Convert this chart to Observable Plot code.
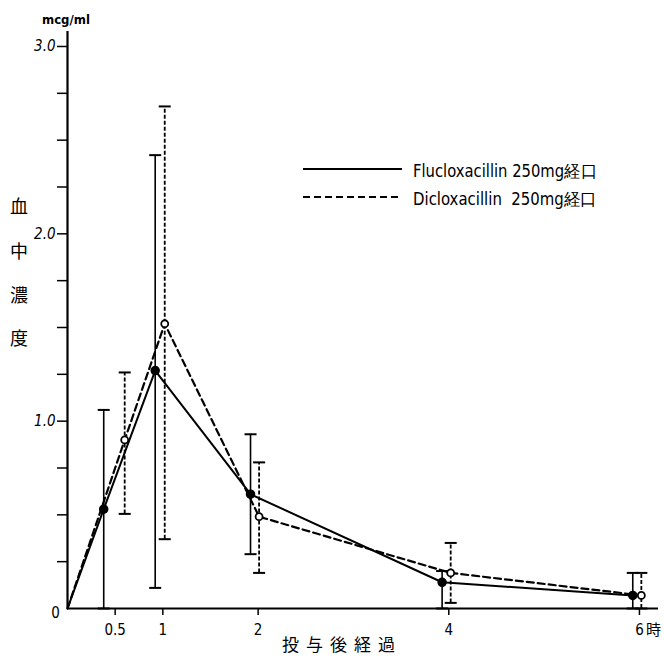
<!DOCTYPE html>
<html><head><meta charset="utf-8">
<script src="https://cdn.jsdelivr.net/npm/d3@7"></script>
<script src="https://cdn.jsdelivr.net/npm/@observablehq/plot@0.6"></script>
<style>
body{margin:0;background:#fff;}
#chart{position:relative;width:664px;height:659px;}
</style></head>
<body><div id="chart"></div>
<script>
// ---- data ----
const fluTimes = [0, 0.38, 0.92, 1.92, 3.93, 5.93];
const fluMean  = [0, 0.53, 1.27, 0.61, 0.14, 0.07];
const fluLow   = [null, 0, 0.11, 0.29, 0, 0];
const fluHigh  = [null, 1.06, 2.42, 0.93, 0.20, 0.19];
const dicTimes = [0, 0.60, 1.02, 2.01, 4.02, 6.02];
const dicMean  = [0, 0.90, 1.52, 0.49, 0.19, 0.07];
const dicLow   = [null, 0.505, 0.37, 0.19, 0.03, 0];
const dicHigh  = [null, 1.26, 2.68, 0.78, 0.35, 0.19];
const xTicks = [0.5, 1, 2, 4, 6];
const xTickLabels = ["0.5", "1", "2", "4", "6"];
const yTicks = [0.25, 0.5, 0.75, 1, 1.25, 1.5, 1.75, 2, 2.25, 2.5, 2.75, 3];
const seriesNames = ["Flucloxacillin 250mg経口", "Dicloxacillin  250mg経口"];
const yUnit = "mcg/ml";
const yTitle = ["血", "中", "濃", "度"];
const xTitle = "投与後経過";
const hourUnit = "時";

const rows = (t, m, lo, hi) => t.map((x, i) => ({x, y: m[i], lo: lo[i], hi: hi[i]}));
const flu = rows(fluTimes, fluMean, fluLow, fluHigh);
const dic = rows(dicTimes, dicMean, dicLow, dicHigh);
const fluErr = flu.filter(d => d.lo != null);
const dicErr = dic.filter(d => d.lo != null);

const FONT = '"DejaVu Sans Condensed","Liberation Sans Narrow","DejaVu Sans",sans-serif';
const CJK = '"Noto Sans CJK JP",sans-serif';

const cap = {draw(ctx, size){ const w = Math.sqrt(size/Math.PI); ctx.moveTo(-w,0); ctx.lineTo(w,0); }};

const plot = Plot.plot({
  width: 664, height: 659,
  marginLeft: 67, marginRight: 6, marginTop: 31, marginBottom: 51,
  style: {fontFamily: FONT, background: "#fff", color: "#000"},
  x: {domain: [0, 6.2], axis: null},
  y: {domain: [0, 3.08], axis: null},
  marks: [
    Plot.ruleX([0], {strokeWidth: 2.2}),
    Plot.ruleY([0], {strokeWidth: 2.2}),
    Plot.axisY(yTicks, {tickSize: 10, tickPadding: 2, strokeWidth: 1.5, fontSize: 15, fontStyle: "italic", label: null,
      tickFormat: d => (d % 1 === 0 ? d.toFixed(1) : "")}),
    Plot.axisX(xTicks, {tickSize: 7, tickPadding: 9, strokeWidth: 1.5, fontSize: 15, label: null,
      tickFormat: (d, i) => xTickLabels[i]}),
    Plot.text([0], {x: 0, y: 0, text: () => "0", dx: -12, dy: 5, fontSize: 15}),
    Plot.text([6], {x: 6, y: 0, text: () => hourUnit, dx: 14, dy: 22, fontSize: 15, fontFamily: CJK}),
    // error bars
    Plot.ruleX(fluErr, {x: "x", y1: "lo", y2: "hi", strokeWidth: 1.6}),
    Plot.dot(fluErr, {x: "x", y: "hi", symbol: cap, r: 6, stroke: "black", strokeWidth: 2}),
    Plot.dot(fluErr, {x: "x", y: "lo", symbol: cap, r: 6, stroke: "black", strokeWidth: 2}),
    Plot.ruleX(dicErr, {x: "x", y1: "lo", y2: "hi", strokeWidth: 1.8, strokeDasharray: "4,2"}),
    Plot.dot(dicErr, {x: "x", y: "hi", symbol: cap, r: 6, stroke: "black", strokeWidth: 2}),
    Plot.dot(dicErr, {x: "x", y: "lo", symbol: cap, r: 6, stroke: "black", strokeWidth: 2}),
    // lines
    Plot.line(flu, {x: "x", y: "y", stroke: "black", strokeWidth: 2}),
    Plot.line(dic, {x: "x", y: "y", stroke: "black", strokeWidth: 2.2, strokeDasharray: "7,4"}),
    // markers
    Plot.dot(fluErr, {x: "x", y: "y", r: 4, fill: "black", stroke: "black"}),
    Plot.dot(dicErr, {x: "x", y: "y", r: 3.5, fill: "white", stroke: "black", strokeWidth: 1.8})
  ]
});
document.getElementById("chart").appendChild(plot);

// titles and legend
const svg = d3.select(plot);
svg.append("text").attr("x", 42).attr("y", 24).attr("text-anchor", "start").attr("font-size", 13).attr("font-family", FONT)
  .attr("font-weight", "bold").text(yUnit);
const yTitleY = [207, 252, 296, 339];
yTitle.forEach((c, i) => {
  svg.append("text").attr("x", 19).attr("y", yTitleY[i]).attr("dy", "0.35em").attr("text-anchor", "middle")
    .attr("font-size", 18).attr("font-family", CJK).text(c);
});
svg.append("text").attr("x", 342).attr("y", 645).attr("dy", "0.35em").attr("text-anchor", "middle")
  .attr("font-size", 17).attr("letter-spacing", 7).attr("font-family", CJK).text(xTitle);
const legY = [169, 197];
const legDash = [null, "7,4"];
seriesNames.forEach((name, i) => {
  svg.append("line").attr("x1", 303).attr("x2", 402).attr("y1", legY[i]).attr("y2", legY[i])
    .attr("stroke", "black").attr("stroke-width", 2.2).attr("stroke-dasharray", legDash[i]);
  svg.append("text").attr("x", 413).attr("y", legY[i] + 2).attr("dy", "0.35em").attr("text-anchor", "start")
    .attr("font-size", 17).attr("font-family", FONT).attr("textLength", 184).attr("lengthAdjust", "spacingAndGlyphs").text(name);
});
</script></body></html>
